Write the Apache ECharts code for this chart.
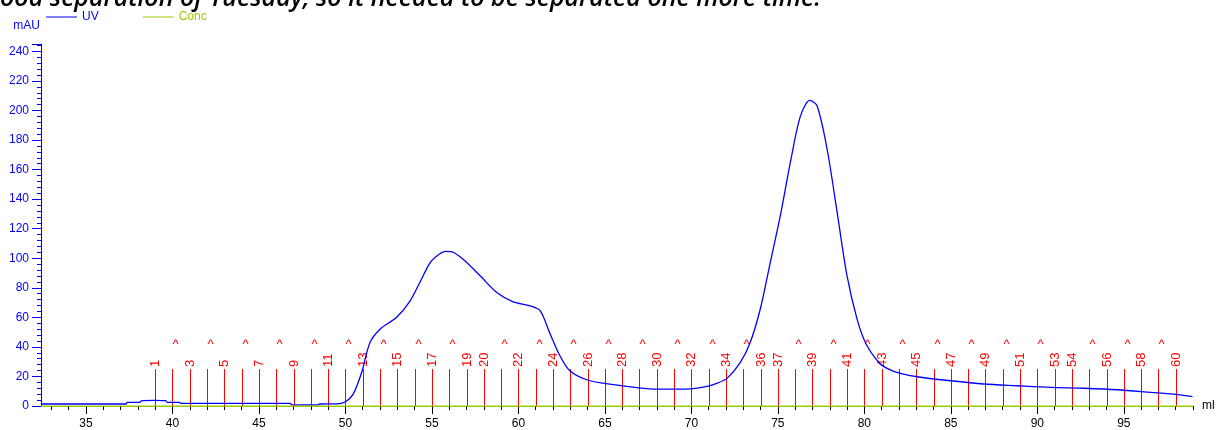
<!DOCTYPE html>
<html>
<head>
<meta charset="utf-8">
<script src="https://cdn.jsdelivr.net/npm/echarts@6/dist/echarts.min.js"></script>
<style>
html,body{margin:0;padding:0;background:#fff;}
#chart{width:1227px;height:430px;}
</style>
</head>
<body>
<div id="chart"></div>
<script>
// ---- data ----
const uvData = [
  [32.4,1.35],[37.3,1.35],[37.4,2.5],[38.1,2.5],[38.2,3.5],[38.9,3.8],[39.6,3.6],[39.7,2.5],
  [40.4,2.4],[40.5,1.8],[46.8,1.8],[46.9,0.7],[48.4,0.7],[48.5,1.35],[49.5,1.4],[50.0,2.9],
  [50.45,8],[50.94,22.8],[51.42,43],[52.0,52],[52.96,60],[53.73,71],[54.3,83.6],[54.9,97],
  [55.4,102.5],[55.8,104.6],[56.1,104.5],[56.8,99.3],[57.8,88],[58.75,76.8],[59.7,70.5],
  [60.68,67.8],[61.26,64.4],[61.8,49.8],[62.4,34],[62.97,23.9],[64.0,17.6],[65.5,14.4],
  [66.85,12.4],[68.0,11.4],[69.93,11.6],[70.9,13.3],[71.5,15.5],[72.06,18.7],[72.83,29.5],
  [73.4,43],[73.98,65.5],[74.56,97],[75.14,128.6],[75.72,164.7],[76.3,196],[76.85,206.8],
  [77.27,203],[77.85,173.6],[78.43,130.9],[79.0,88],[79.58,58.8],[80.1,42],[80.93,28.4],
  [81.5,24.5],[82.09,22.1],[83.05,19.8],[84.98,17.1],[86.9,14.9],[88.84,13.7],[90.77,12.6],
  [92.7,12],[94.63,11],[96.56,9.2],[98.1,7.7],[98.97,6.3]
];
const concData = [[32.4,0],[99,0]];
const fractionMl = [39,40,41,42,43,44,45,46,47,48,49,50,51,52,53,54,55,56,57,58,59,60,61,62,63,64,65,66,67,68,69,70,71,72,73,74,75,76,77,78,79,80,81,82,83,84,85,86,87,88,89,90,91,92,93,94,95,96,97,98,99];
const fractionLabels = ['1','^','3','^','5','^','7','^','9','^','11','^','13','^','15','^','17','^','19','20','^','22','^','24','^','26','^','28','^','30','^','32','^','34','^','36','37','^','39','^','41','^','43','^','45','^','47','^','49','^','51','^','53','54','^','56','^','58','^','60','^'];
const xLabelTicks = [35,40,45,50,55,60,65,70,75,80,85,90,95];
const xMinorTicks = [33,34,35,36,37,38,39,40,41,42,43,44,45,46,47,48,49,50,51,52,53,54,55,56,57,58,59,60,61,62,63,64,65,66,67,68,69,70,71,72,73,74,75,76,77,78,79,80,81,82,83,84,85,86,87,88,89,90,91,92,93,94,95,96,97,98,99];
const headerText = 'ood separation of Tuesday, so it needed to be separated one more time.';

const BLUE = '#0000ff';
const GREEN = '#99cc00';
const RED = '#ff0000';
const FRACTION_TOP = 25;

const chart = echarts.init(document.getElementById('chart'), null, {renderer:'canvas'});
chart.setOption({
  animation: false,
  textStyle: {fontFamily: '"Liberation Sans", Arial, sans-serif'},
  graphic: [{
    type: 'text', left: 0, top: -14, z: 0,
    style: {text: headerText, fill: '#000',
      font: 'italic 600 25px "Open Sans", sans-serif'}
  }],
  legend: {
    left: 46, top: 11, padding: 0, itemGap: 44, itemWidth: 31, itemHeight: 1,
    icon: 'rect', z: 10,
    textStyle: {fontSize: 12, fontFamily: '"Liberation Sans", Arial, sans-serif'},
    data: [
      {name: 'UV', textStyle: {color: BLUE}},
      {name: 'Conc', textStyle: {color: GREEN}}
    ]
  },
  grid: {left: 41, right: 34, top: 44, bottom: 23, containLabel: false},
  xAxis: [{
    type: 'value', min: 32.4, max: 99,
    name: 'ml', nameLocation: 'end', nameGap: 9,
    nameTextStyle: {color: '#000', fontSize: 12, verticalAlign: 'middle', padding: [4,0,0,0]},
    axisLine: {show: true, onZero: false, lineStyle: {color: GREEN, width: 1}},
    axisTick: {show: true, length: 8, lineStyle: {color: '#000'}, customValues: xLabelTicks},
    axisLabel: {color: '#000', fontSize: 12, margin: 12, customValues: xLabelTicks},
    splitLine: {show: false}
  }, {
    type: 'value', min: 32.4, max: 99, position: 'bottom', gridIndex: 0,
    axisLine: {show: false},
    axisTick: {show: true, length: 4, lineStyle: {color: '#000'}, customValues: xMinorTicks},
    axisLabel: {show: false},
    splitLine: {show: false}
  }],
  yAxis: {
    type: 'value', min: 0, max: 245, interval: 20,
    name: 'mAU', nameLocation: 'end', nameGap: 12,
    nameTextStyle: {color: BLUE, fontSize: 12, align: 'right', verticalAlign: 'bottom', padding: [0,1,0,0]},
    axisLine: {show: true, lineStyle: {color: BLUE}},
    axisTick: {show: true, length: 9, lineStyle: {color: BLUE}},
    minorTick: {show: true, splitNumber: 5, length: 4, lineStyle: {color: BLUE}},
    axisLabel: {color: BLUE, fontSize: 12, margin: 12, showMaxLabel: false},
    splitLine: {show: false}
  },
  series: [
    {
      type: 'custom', name: 'Fractions', xAxisIndex: 0, clip: true, z: 1,
      data: fractionMl.map((ml, i) => [ml, i]),
      renderItem: function (params, api) {
        const ml = api.value(0);
        const lab = fractionLabels[params.dataIndex];
        const p0 = api.coord([ml, 0]);
        const p1 = api.coord([ml, FRACTION_TOP]);
        const x = Math.round(p0[0]) + 0.5;
        const children = [{
          type: 'line',
          shape: {x1: x, y1: p0[1], x2: x, y2: p1[1]},
          style: {stroke: RED, lineWidth: 1}
        }];
        if (lab === '^') {
          children.push({
            type: 'text', x: x + 3, y: p1[1] - 25,
            style: {text: '^', fill: RED, font: '13px "Liberation Sans", Arial, sans-serif',
              align: 'center', verticalAlign: 'middle'}
          });
        } else {
          children.push({
            type: 'text', x: x, y: p1[1] - 2, rotation: Math.PI / 2,
            style: {text: lab, fill: RED, font: '13px "Liberation Sans", Arial, sans-serif',
              align: 'left', verticalAlign: 'middle'}
          });
        }
        return {type: 'group', children: children};
      }
    },
    {
      name: 'UV', type: 'line', xAxisIndex: 0, data: uvData,
      showSymbol: false, smooth: 0.3, z: 3,
      lineStyle: {color: BLUE, width: 1.3}, itemStyle: {color: BLUE}
    },
    {
      name: 'Conc', type: 'line', xAxisIndex: 0, data: concData,
      showSymbol: false, z: 4, clip: false,
      lineStyle: {color: GREEN, width: 1}, itemStyle: {color: GREEN}
    }
  ]
});
</script>
</body>
</html>
